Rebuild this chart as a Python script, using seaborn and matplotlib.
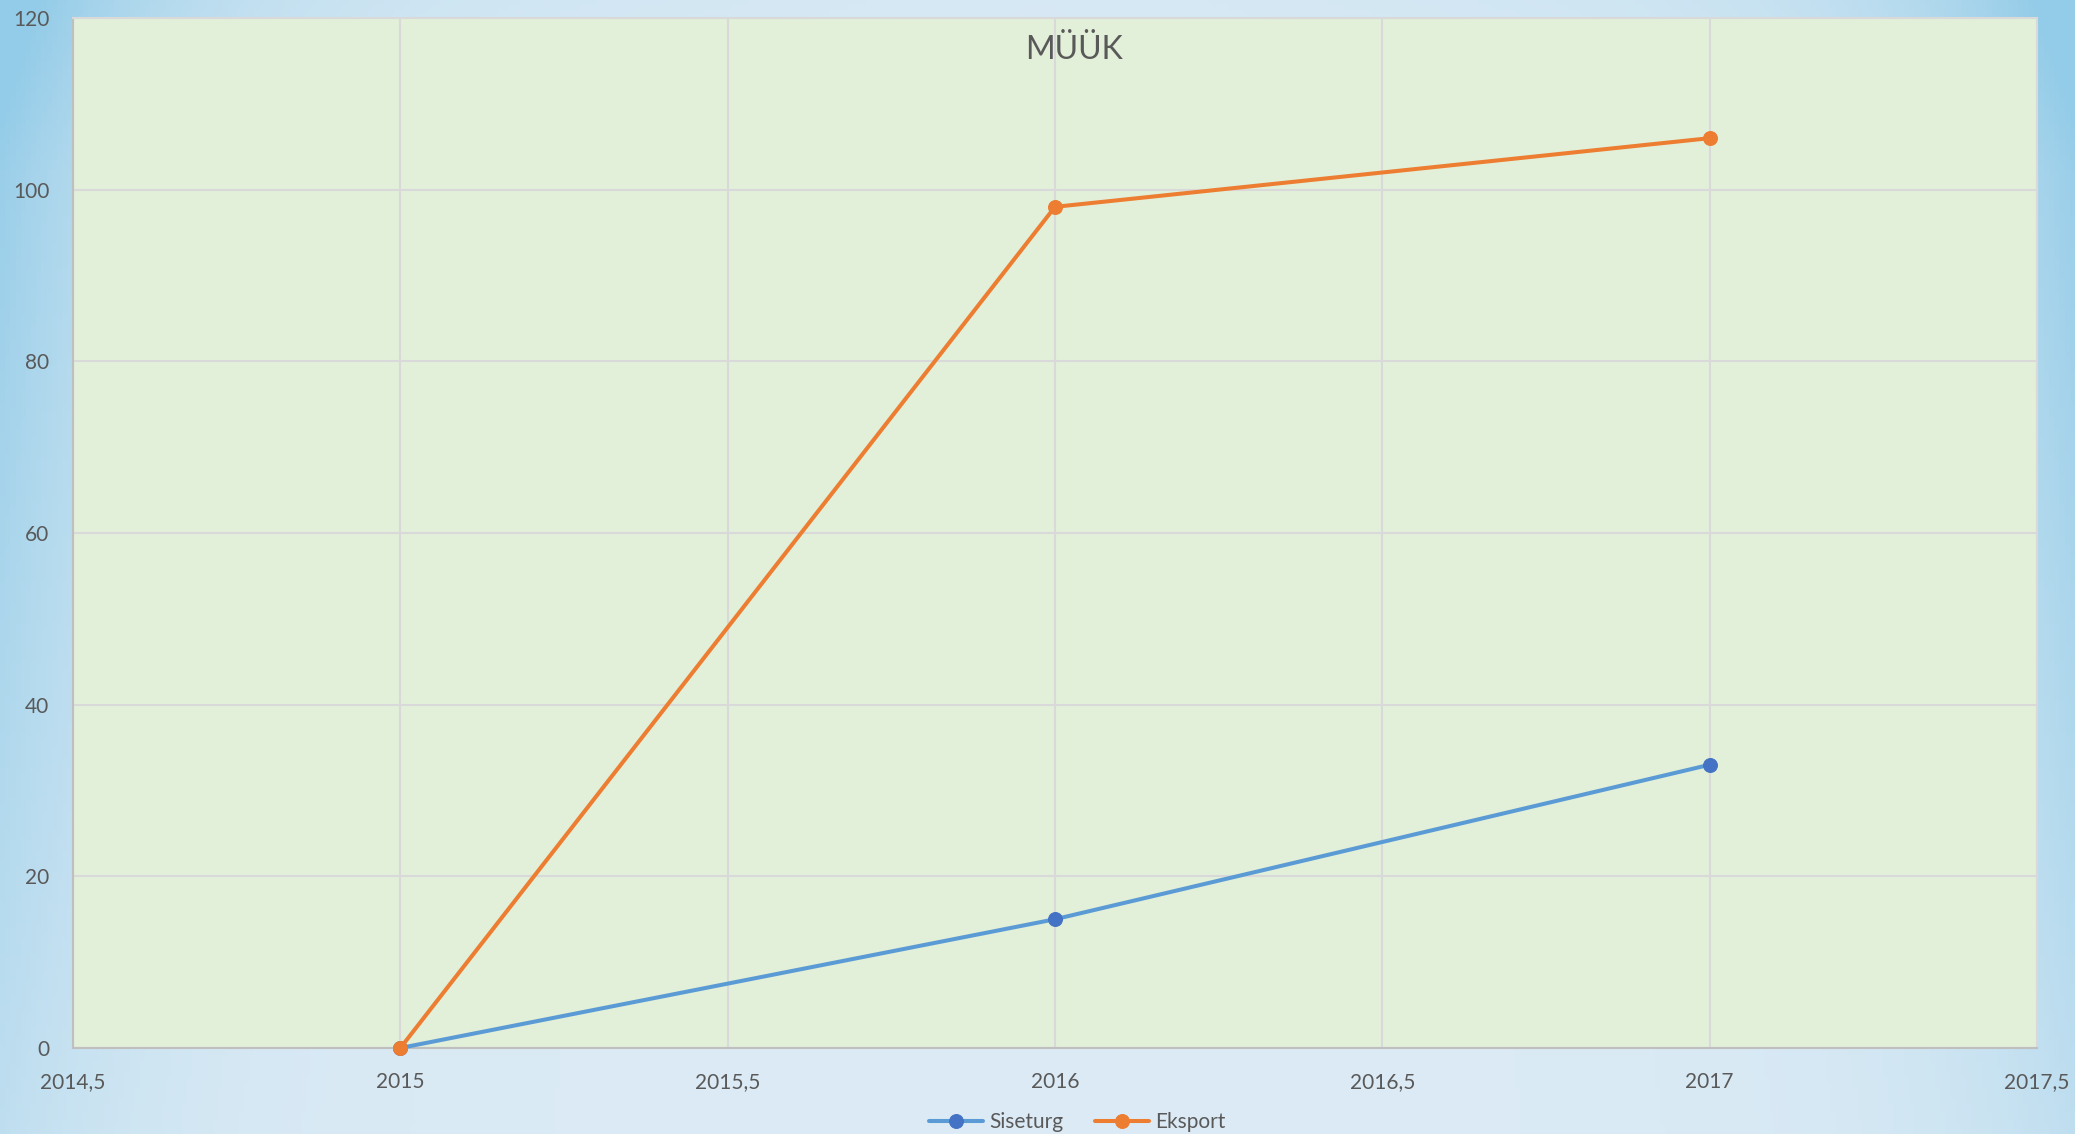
import numpy as np
import pandas as pd
import matplotlib
matplotlib.use("Agg")
import matplotlib.pyplot as plt
from matplotlib.ticker import FuncFormatter
import seaborn as sns

years = [2015, 2016, 2017]
siseturg = [0, 15, 33]
eksport = [0, 98, 106]
series_names = ["Siseturg", "Eksport"]
title = "MÜÜK"
y_ticks = [0, 20, 40, 60, 80, 100, 120]
x_ticks = [2014.5, 2015, 2015.5, 2016, 2016.5, 2017, 2017.5]

sns.set_theme(style="white")
plt.rcParams["font.family"] = ["Lato", "DejaVu Sans"]

W, H = 2075, 1134
fig = plt.figure(figsize=(W / 100, H / 100), dpi=100)

# sky-like background
bg = fig.add_axes([0, 0, 1, 1], zorder=-10)
xx = np.linspace(-1, 1, 400)
yy = np.linspace(0, 1, 220)
X, Y = np.meshgrid(xx, yy)
edge = np.clip(np.abs(X) ** 6, 0, 1) * (0.4 + 0.6 * Y)
top = np.clip((Y - 0.85) / 0.15, 0, 1) * 0.3
base = np.array([0.86, 0.92, 0.96])
blue = np.array([0.58, 0.80, 0.91])
mix = np.clip(edge + top * (0.2 + 0.5 * np.abs(X)), 0, 1)[..., None]
img = base * (1 - mix) + blue * mix
bg.imshow(img, aspect="auto", origin="lower", extent=[0, 1, 0, 1])
bg.set_axis_off()

ax = fig.add_axes([73 / W, 1 - 1048 / H, (2037 - 73) / W, (1048 - 18) / H])
ax.set_facecolor("#E2EFD9")

df = pd.DataFrame({
    "year": years * 2,
    "value": siseturg + eksport,
    "series": [series_names[0]] * len(years) + [series_names[1]] * len(years),
})

line_colors = {"Siseturg": "#5B9BD5", "Eksport": "#ED7D31"}
marker_colors = {"Siseturg": "#4472C4", "Eksport": "#ED7D31"}
for name in series_names:
    sub = df[df["series"] == name]
    sns.lineplot(data=sub, x="year", y="value", ax=ax, color=line_colors[name],
                 marker="o", markersize=10, markerfacecolor=marker_colors[name],
                 markeredgecolor=marker_colors[name], linewidth=2.9, label=name,
                 clip_on=False, zorder=3)

ax.set_xlim(2014.5, 2017.5)
ax.set_ylim(0, 120)
ax.set_xticks(x_ticks)
ax.set_yticks(y_ticks)
ax.xaxis.set_major_formatter(FuncFormatter(lambda v, p: (f"{v:g}").replace(".", ",")))
ax.grid(True, color="#D9D9D9", linewidth=1.5)
ax.set_axisbelow(True)
ax.set_xlabel("")
ax.set_ylabel("")
ax.tick_params(axis="both", length=0, labelsize=15, labelcolor="#595959")
ax.tick_params(axis="y", pad=17)
ax.tick_params(axis="x", pad=17)
for s in ["top", "right"]:
    ax.spines[s].set_color("#D9D9D9")
    ax.spines[s].set_linewidth(1.5)
for s in ["left", "bottom"]:
    ax.spines[s].set_color("#BFBFBF")
    ax.spines[s].set_linewidth(1.5)

ax.get_legend().remove()
handles, labels = ax.get_legend_handles_labels()
fig.legend(handles, labels, loc="center", bbox_to_anchor=(1077 / W, 1 - 1122 / H),
           ncol=2, frameon=False, fontsize=15, labelcolor="#595959",
           handlelength=2.6, handletextpad=0.3, columnspacing=1.5)

fig.text(1074 / W, 1 - 59 / H, title, ha="center", va="baseline",
         fontsize=23, color="#595959")

fig.savefig("out.png", dpi=100)
